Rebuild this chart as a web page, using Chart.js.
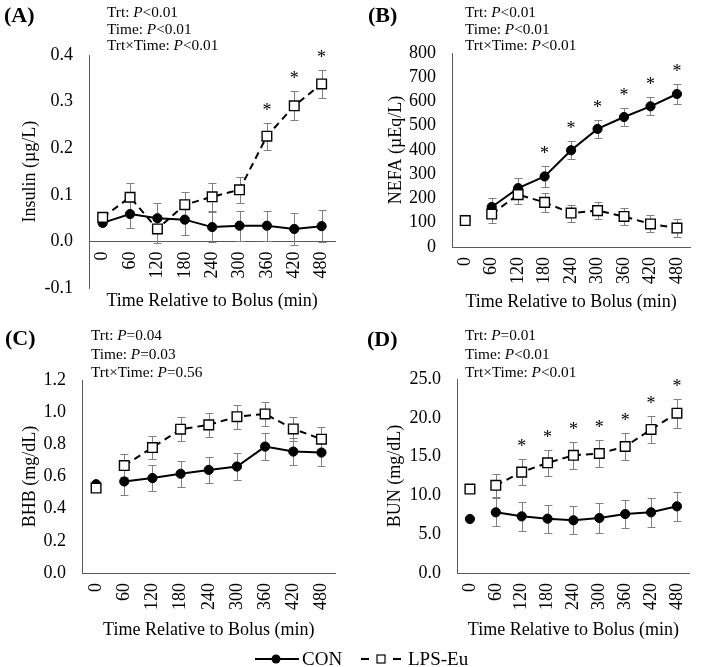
<!DOCTYPE html>
<html>
<head>
<meta charset="utf-8">
<script src="https://cdn.jsdelivr.net/npm/chart.js@4.4.0/dist/chart.umd.min.js"></script>
<style>
  html, body { margin: 0; padding: 0; background: #fff; }
  body { width: 709px; height: 667px; position: relative; overflow: hidden;
         font-family: "Liberation Serif", "Times New Roman", serif; color: #000; }
  canvas { position: absolute; }
  .tag { position: absolute; font-weight: bold; font-size: 22px; line-height: 22px; }
  .stats { position: absolute; font-size: 15.3px; white-space: nowrap; }
  .legend { position: absolute; top: 647px; height: 24px; font-size: 19px; line-height: 24px; }
  .legend svg { position: absolute; top: 0; }
  .legend span { position: absolute; top: 0; }
</style>
</head>
<body>

<canvas id="chartA" width="354" height="315" style="left:0;top:0"></canvas>
<canvas id="chartB" width="355" height="315" style="left:354px;top:0"></canvas>
<canvas id="chartC" width="354" height="345" style="left:0;top:300px"></canvas>
<canvas id="chartD" width="355" height="345" style="left:354px;top:300px"></canvas>

<div class="tag" style="left:4px;top:4px">(A)</div>
<div class="tag" style="left:368px;top:4px">(B)</div>
<div class="tag" style="left:5px;top:327px">(C)</div>
<div class="tag" style="left:367px;top:328px">(D)</div>

<div class="stats" style="left:107px;top:4px;line-height:16.5px">
  Trt: <i>P</i>&lt;0.01<br>Time: <i>P</i>&lt;0.01<br>Trt×Time: <i>P</i>&lt;0.01
</div>
<div class="stats" style="left:465px;top:4px;line-height:16.5px">
  Trt: <i>P</i>&lt;0.01<br>Time: <i>P</i>&lt;0.01<br>Trt×Time: <i>P</i>&lt;0.01
</div>
<div class="stats" style="left:91px;top:326px;line-height:18.5px">
  Trt: <i>P</i>=0.04<br>Time: <i>P</i>=0.03<br>Trt×Time: <i>P</i>=0.56
</div>
<div class="stats" style="left:465px;top:326px;line-height:18.5px">
  Trt: <i>P</i>=0.01<br>Time: <i>P</i>&lt;0.01<br>Trt×Time: <i>P</i>&lt;0.01
</div>

<div class="legend" style="left:0;width:709px">
  <svg style="left:255px" width="44" height="24">
    <line x1="0" y1="12" x2="44" y2="12" stroke="#000" stroke-width="2"/>
    <circle cx="21" cy="12" r="4.5" fill="#000"/>
  </svg>
  <span style="left:302px">CON</span>
  <svg style="left:361px" width="40" height="24">
    <line x1="0" y1="12" x2="8" y2="12" stroke="#000" stroke-width="2"/>
    <line x1="32" y1="12" x2="40" y2="12" stroke="#000" stroke-width="2"/>
    <rect x="16" y="8" width="8" height="8" fill="#fff" stroke="#000" stroke-width="1.2"/>
  </svg>
  <span style="left:408px">LPS-Eu</span>
</div>

<script>
const times = ['0', '60', '120', '180', '240', '300', '360', '420', '480'];

// (A) Insulin
const insulinCon = [0.040, 0.059, 0.050, 0.047, 0.031, 0.034, 0.034, 0.027, 0.033];
const insulinConSe = [null, 0.029, 0.032, 0.032, 0.033, 0.032, 0.032, 0.034, 0.034];
const insulinLps = [0.052, 0.095, 0.027, 0.079, 0.096, 0.111, 0.226, 0.291, 0.338];
const insulinLpsSe = [null, 0.030, 0.030, 0.028, 0.030, 0.028, 0.029, 0.031, 0.030];
const insulinTicks = [-0.1, 0, 0.1, 0.2, 0.3, 0.4];
const insulinStars = ['360', '420', '480'];

// (B) NEFA
const nefaCon = [109, 165, 243, 291, 399, 487, 536, 580, 631];
const nefaConSe = [null, 37, 41, 42, 37, 38, 37, 37, 41];
const nefaLps = [109, 136, 216, 184, 140, 150, 126, 95, 78];
const nefaLpsSe = [null, 35, 38, 38, 35, 35, 35, 35, 38];
const nefaTicks = [0, 100, 200, 300, 400, 500, 600, 700, 800];
const nefaStars = ['180', '240', '300', '360', '420', '480'];

// (C) BHB
const bhbCon = [0.552, 0.569, 0.590, 0.617, 0.641, 0.662, 0.786, 0.755, 0.749];
const bhbConSe = [null, 0.083, 0.082, 0.082, 0.082, 0.082, 0.082, 0.085, 0.085];
const bhbLps = [0.528, 0.668, 0.780, 0.894, 0.921, 0.972, 0.989, 0.896, 0.832];
const bhbLpsSe = [null, 0.072, 0.073, 0.073, 0.075, 0.075, 0.077, 0.075, 0.075];
const bhbTicks = [0, 0.2, 0.4, 0.6, 0.8, 1.0, 1.2];
const bhbStars = [];

// (D) BUN
const bunCon = [6.96, 7.82, 7.30, 7.00, 6.79, 7.09, 7.60, 7.82, 8.59];
const bunConSe = [null, 1.8, 1.9, 1.8, 1.8, 1.9, 1.85, 1.9, 1.85];
const bunLps = [10.82, 11.30, 13.00, 14.20, 15.16, 15.40, 16.30, 18.50, 20.60];
const bunLpsSe = [null, 1.5, 1.7, 1.7, 1.7, 1.75, 1.8, 1.75, 1.85];
const bunTicks = [0, 5, 10, 15, 20, 25];
const bunStars = ['120', '180', '240', '300', '360', '420', '480'];

const FONT = '"Liberation Serif", "Times New Roman", serif';
const AXIS = '#595959';

// error bars go under the lines and markers
const errorBars = {
  id: 'errorBars',
  beforeDatasetsDraw(chart) {
    const { ctx, scales: { x, y } } = chart;
    ctx.save();
    ctx.strokeStyle = '#808080';
    ctx.lineWidth = 1;
    chart.data.datasets.forEach(ds => {
      ds.data.forEach((v, i) => {
        const e = ds.se[i];
        if (v == null || !e) return;
        const px = Math.round(x.getPixelForValue(i)) + 0.5;
        const top = Math.round(y.getPixelForValue(v + e)) + 0.5;
        const bot = Math.round(y.getPixelForValue(v - e)) + 0.5;
        ctx.beginPath();
        ctx.moveTo(px, top); ctx.lineTo(px, bot);
        ctx.moveTo(px - 4, top); ctx.lineTo(px + 4, top);
        ctx.moveTo(px - 4, bot); ctx.lineTo(px + 4, bot);
        ctx.stroke();
      });
    });
    ctx.restore();
  }
};

const starPlugin = stars => ({
  id: 'stars',
  afterDatasetsDraw(chart) {
    const { ctx, scales: { x, y } } = chart;
    ctx.save();
    ctx.fillStyle = '#000';
    ctx.font = '18px ' + FONT;
    ctx.textAlign = 'center';
    ctx.textBaseline = 'alphabetic';
    stars.forEach(t => {
      const i = times.indexOf(t);
      let top = -Infinity;
      chart.data.datasets.forEach(ds => {
        if (ds.data[i] != null) top = Math.max(top, ds.data[i] + (ds.se[i] || 0));
      });
      ctx.fillText('*', x.getPixelForValue(i), y.getPixelForValue(top) - 7);
    });
    ctx.restore();
  }
});

// baseline (0 min) point is not joined to 60 min except in panel A
const segStyle = joined => ({
  borderColor: c => (!joined && c.p0DataIndex === 0) ? 'rgba(0,0,0,0)' : '#000'
});

function makePanel(id, o) {
  new Chart(document.getElementById(id), {
    type: 'line',
    data: {
      labels: times,
      datasets: [
        {
          label: 'LPS-Eu', data: o.lps, se: o.lpsSe,
          borderColor: '#000', borderWidth: 2, borderDash: [7, 5],
          pointStyle: 'rect', pointRadius: 6.8,
          pointBackgroundColor: '#fff', pointBorderColor: '#000', pointBorderWidth: 1.4,
          segment: segStyle(o.joined), spanGaps: false
        },
        {
          label: 'CON', data: o.con, se: o.conSe,
          borderColor: '#000', borderWidth: 2,
          pointStyle: 'circle', pointRadius: 4.6,
          pointBackgroundColor: '#000', pointBorderColor: '#000', pointBorderWidth: 1,
          segment: segStyle(o.joined), spanGaps: false
        }
      ]
    },
    options: {
      responsive: false,
      animation: false,
      layout: { padding: o.pad },
      plugins: { legend: { display: false }, tooltip: { enabled: false } },
      scales: {
        x: {
          type: 'category',
          offset: true,
          position: o.xAtZero ? { y: 0 } : 'bottom',
          grid: { display: false, drawTicks: false },
          border: { display: true, color: AXIS, width: 1 },
          ticks: {
            color: '#000', font: { family: FONT, size: 18 },
            minRotation: 90, maxRotation: 90, padding: 10, autoSkip: false
          },
          title: {
            display: true, text: 'Time Relative to Bolus (min)', color: '#000',
            font: { family: FONT, size: 18 }, padding: 0
          },
          afterFit: s => { s.height = o.xHeight; }
        },
        y: {
          min: o.ticks[0],
          max: o.ticks[o.ticks.length - 1],
          afterBuildTicks: s => { s.ticks = o.ticks.map(v => ({ value: v })); },
          grid: { display: false, drawTicks: false },
          border: { display: true, color: AXIS, width: 1 },
          ticks: {
            color: '#000', font: { family: FONT, size: 18 }, padding: 16, autoSkip: false,
            callback: v => v.toFixed(o.digits)
          },
          title: {
            display: true, text: o.title, color: '#000',
            font: { family: FONT, size: 18 }, padding: { top: o.titlePad, bottom: 0 }
          },
          afterFit: s => { s.width = o.yWidth; }
        }
      }
    },
    plugins: [errorBars, starPlugin(o.stars)]
  });
}

makePanel('chartA', {
  con: insulinCon, conSe: insulinConSe, lps: insulinLps, lpsSe: insulinLpsSe,
  ticks: insulinTicks, stars: insulinStars, digits: 1, joined: true, xAtZero: true,
  title: 'Insulin (µg/L)', titlePad: 19, yWidth: 89, xHeight: 71,
  pad: { top: 55, right: 14, bottom: 26, left: 0 }
});
makePanel('chartB', {
  con: nefaCon, conSe: nefaConSe, lps: nefaLps, lpsSe: nefaLpsSe,
  ticks: nefaTicks, stars: nefaStars, digits: 0, joined: false, xAtZero: false,
  title: 'NEFA (µEq/L)', titlePad: 31, yWidth: 98, xHeight: 66,
  pad: { top: 53, right: 5, bottom: 2, left: 0 }
});
makePanel('chartC', {
  con: bhbCon, conSe: bhbConSe, lps: bhbLps, lpsSe: bhbLpsSe,
  ticks: bhbTicks, stars: bhbStars, digits: 1, joined: false, xAtZero: false,
  title: 'BHB (mg/dL)', titlePad: 19, yWidth: 82, xHeight: 68,
  pad: { top: 80, right: 17, bottom: 4, left: 0 }
});
makePanel('chartD', {
  con: bunCon, conSe: bunConSe, lps: bunLps, lpsSe: bunLpsSe,
  ticks: bunTicks, stars: bunStars, digits: 1, joined: false, xAtZero: false,
  title: 'BUN (mg/dL)', titlePad: 30, yWidth: 103, xHeight: 68,
  pad: { top: 79, right: 5, bottom: 4, left: 0 }
});
</script>
</body>
</html>
